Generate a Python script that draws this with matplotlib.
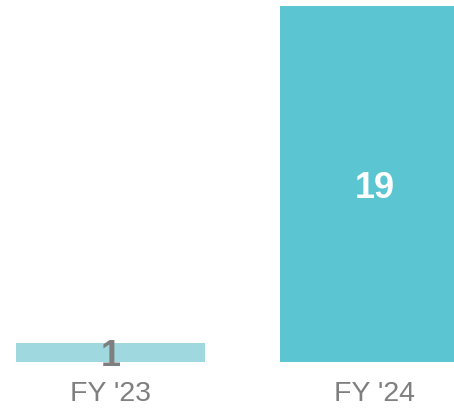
import matplotlib
matplotlib.use('Agg')
import matplotlib.pyplot as plt

years = ["FY '23", "FY '24"]
values = [1, 19]
bar_colors = ['#A0D8E0', '#5BC6D2']
label_colors = ['#7F7F7F', '#FFFFFF']

W, H = 454, 411
fig = plt.figure(figsize=(W / 100, H / 100), dpi=100)
ax = fig.add_axes([0, 49 / H, 1, (H - 49) / H])

x = list(range(len(years)))
bars = ax.bar(x, values, width=0.715, color=bar_colors)

ax.set_xlim(-110.5 / 264.5, 1 + 79 / 264.5)
ax.set_ylim(0, 362 / 356 * 19)

for b, v, c in zip(bars, values, label_colors):
    ax.text(b.get_x() + b.get_width() / 2, v / 2, str(v), ha='center', va='center_baseline',
            fontsize=26, fontweight='bold', color=c, family='Liberation Sans')

ax.set_xticks(x)
ax.set_xticklabels(years, fontsize=20.5, color='#7F7F7F', family='Liberation Sans')
ax.tick_params(axis='x', length=0, pad=14)
ax.set_yticks([])
for s in ax.spines.values():
    s.set_visible(False)
ax.patch.set_alpha(0)

fig.savefig('out.png', dpi=100)
